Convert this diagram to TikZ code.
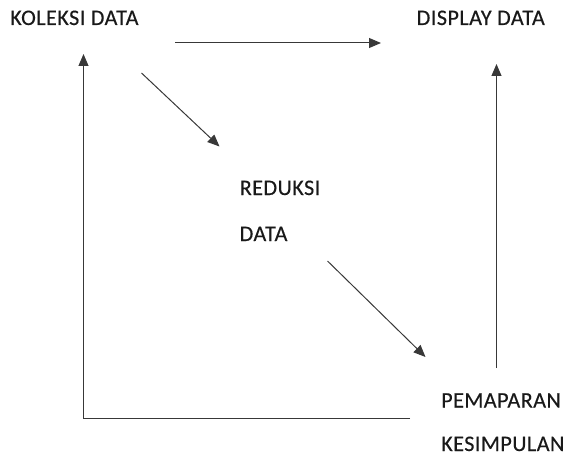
\documentclass[tikz,border=0pt]{standalone}
\usepackage{fontspec}
\setmainfont[LetterSpace=2,FakeBold=0.3]{Carlito}
\usetikzlibrary{arrows.meta}
\begin{document}
\begin{tikzpicture}[x=1pt,y=-1pt,
  lbl/.style={anchor=base west,inner sep=0pt,font=\fontsize{22.2}{26}\selectfont,text=black!90},
  conn/.style={line width=1pt,draw=black!78},
  arr/.style={conn,-{Triangle[length=12pt,width=10pt]}}]
\useasboundingbox (0,0) rectangle (564,457);
\node[lbl] (kol) at (10,25) {KOLEKSI DATA};
\node[lbl] (disp) at (416.5,25) {DISPLAY DATA};
\node[lbl] (red1) at (239.5,195) {REDUKSI};
\node[lbl] (red2) at (239.5,241) {DATA};
\node[lbl] (pem1) at (441,407.5) {PEMAPARAN};
\node[lbl] (pem2) at (441,451) {KESIMPULAN};
\coordinate (t1) at (175,43);
\coordinate (t2) at (381,43);
\coordinate (d1s) at (141.5,73);
\coordinate (d1e) at (219.5,146.5);
\coordinate (d2s) at (327.5,261);
\coordinate (d2e) at (425.5,357);
\coordinate (rvb) at (496.5,368);
\coordinate (rvt) at (496.5,64);
\coordinate (bl) at (83.5,418);
\coordinate (br) at (410,418);
\coordinate (lvt) at (83.5,54);
\draw[arr] (t1) -- (t2);
\draw[arr] (d1s) -- (d1e);
\draw[arr] (d2s) -- (d2e);
\draw[arr] (rvb) -- (rvt);
\draw[arr] (br) -- (bl) -- (lvt);
\end{tikzpicture}
\end{document}
